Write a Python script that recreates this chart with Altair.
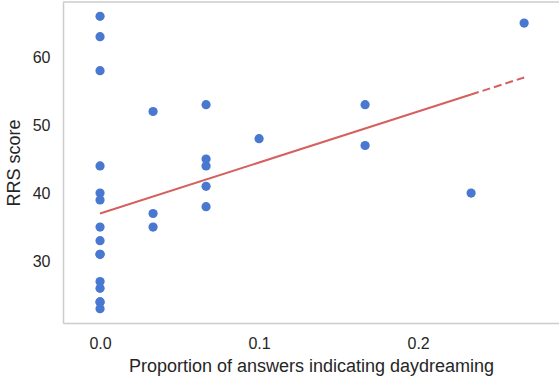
import altair as alt
import pandas as pd

# Data
x_vals = [0, 0, 0, 0, 0, 0, 0, 0, 0, 0, 0, 0, 0, 0, 0,
          1/30, 1/30, 1/30,
          2/30, 2/30, 2/30, 2/30, 2/30,
          3/30,
          5/30, 5/30,
          7/30,
          8/30]
y_vals = [66, 63, 58, 44, 40, 39, 35, 33, 31, 31, 27, 26, 24, 24, 23,
          52, 37, 35,
          53, 45, 44, 41, 38,
          48,
          53, 47,
          40,
          65]

fit_solid_x = [0.0, 0.2333]
fit_solid_y = [37.0, 54.5]
fit_dash_x = [0.2333, 0.2667]
fit_dash_y = [54.5, 57.0]

pts = pd.DataFrame({"x": x_vals, "y": y_vals})
solid = pd.DataFrame({"x": fit_solid_x, "y": fit_solid_y})
dash = pd.DataFrame({"x": fit_dash_x, "y": fit_dash_y})

FONT = "Liberation Sans"
W, H = 496, 321
xscale = alt.Scale(domain=[-0.0233, 0.2886], nice=False, zero=False)
yscale = alt.Scale(domain=[20.9, 68.1], nice=False, zero=False)

xenc = alt.X("x:Q", scale=xscale,
             axis=alt.Axis(title="Proportion of answers indicating daydreaming",
                           values=[0.0, 0.1, 0.2], format=".1f"))
yenc = alt.Y("y:Q", scale=yscale,
             axis=alt.Axis(title="RRS score", values=[30, 40, 50, 60]))

points = alt.Chart(pts).mark_circle(size=85, opacity=1, color="#4878d0").encode(x=xenc, y=yenc)
line1 = alt.Chart(solid).mark_line(color="#d65f5f", strokeWidth=2).encode(x="x:Q", y="y:Q")
line2 = alt.Chart(dash).mark_line(color="#d65f5f", strokeWidth=2, strokeDash=[8, 4]).encode(x="x:Q", y="y:Q")
top_frame = alt.Chart(pd.DataFrame({"a": [0]})).mark_rule(color="#cccccc", strokeWidth=1.5).encode(
    x=alt.value(0), x2=alt.value(W), y=alt.value(0)
)

chart = alt.layer(top_frame, points, line1, line2).properties(
    width=W, height=H,
    padding={"left": 63, "top": 2, "right": 0, "bottom": 57},
    autosize=alt.AutoSizeParams(type="none"),
).configure_view(
    stroke=None
).configure_axis(
    grid=False, ticks=False, domain=True,
    domainColor="#cccccc", domainWidth=1.5,
    labelFont=FONT, titleFont=FONT,
    labelFontSize=16, titleFontSize=18,
    labelColor="#262626", titleColor="#262626",
    titleFontWeight="normal",
).configure_axisX(
    labelPadding=12, titlePadding=6,
).configure_axisY(
    labelPadding=13, titlePadding=9,
)

chart.save("out.html", embed_options={"renderer": "svg", "actions": False})
